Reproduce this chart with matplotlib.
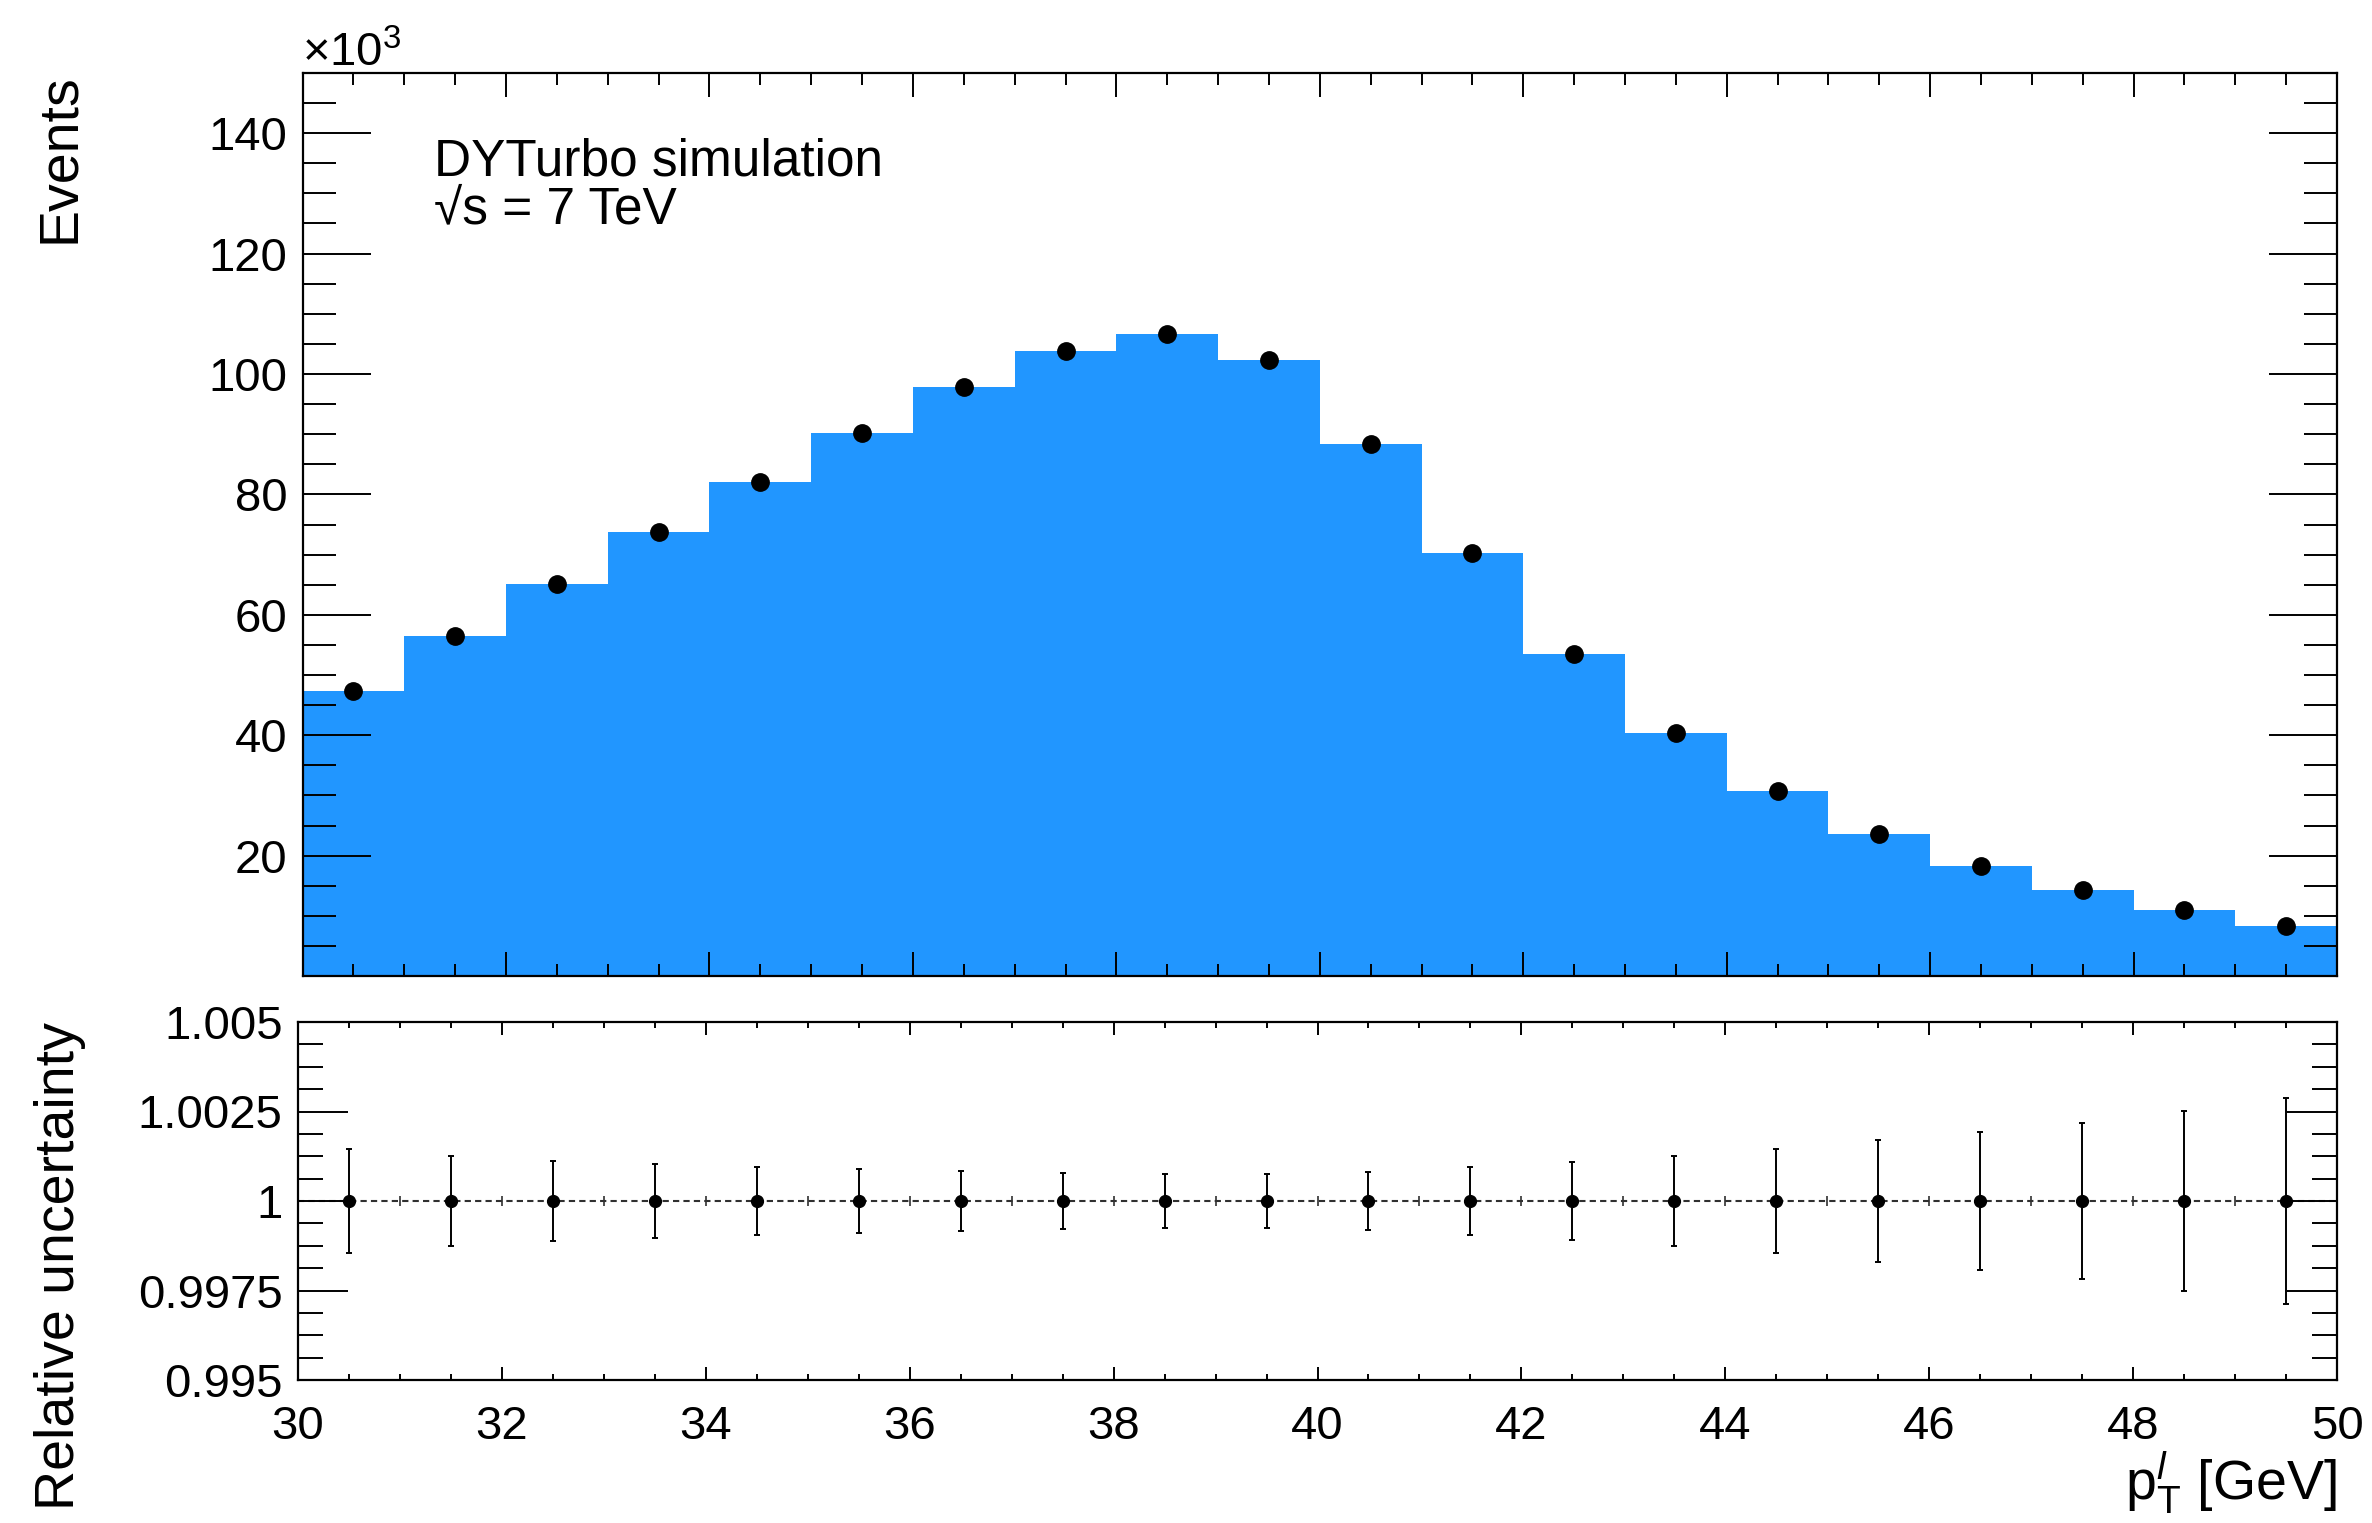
import numpy as np
import matplotlib
matplotlib.use("Agg")
import matplotlib.pyplot as plt
from matplotlib.ticker import MultipleLocator, FixedLocator, FixedFormatter

# ---------------- data ----------------
pt_bin_edges = [30, 31, 32, 33, 34, 35, 36, 37, 38, 39, 40,
                41, 42, 43, 44, 45, 46, 47, 48, 49, 50]
pt_bin_centers = [30.5, 31.5, 32.5, 33.5, 34.5, 35.5, 36.5, 37.5, 38.5, 39.5,
                  40.5, 41.5, 42.5, 43.5, 44.5, 45.5, 46.5, 47.5, 48.5, 49.5]
# events in units of 10^3
events_k = [47.4, 56.4, 65.1, 73.7, 82.1, 90.2, 97.8, 103.9, 106.6, 102.4,
            88.4, 70.3, 53.5, 40.4, 30.8, 23.6, 18.2, 14.3, 11.0, 8.3]
ratio_central = [1.0] * 20
ratio_error = [0.00145, 0.00125, 0.00113, 0.00104, 0.00094, 0.00088, 0.00083,
               0.00079, 0.00076, 0.00076, 0.00081, 0.00094, 0.00110, 0.00126,
               0.00146, 0.00170, 0.00192, 0.00219, 0.00252, 0.00287]
upper_yticks = [20, 40, 60, 80, 100, 120, 140]
lower_yticks = [0.995, 0.9975, 1.0, 1.0025, 1.005]
lower_yticklabels = ["0.995", "0.9975", "1", "1.0025", "1.005"]
xticks = [30, 32, 34, 36, 38, 40, 42, 44, 46, 48, 50]

# ---------------- style ----------------
FONT = ["Liberation Sans", "DejaVu Sans"]
plt.rcParams["font.family"] = FONT
plt.rcParams["mathtext.fontset"] = "custom"
plt.rcParams["mathtext.rm"] = "Liberation Sans"
plt.rcParams["mathtext.it"] = "Liberation Sans:italic"
plt.rcParams["mathtext.bf"] = "Liberation Sans:bold"

W, H = 2372, 1523
fig = plt.figure(figsize=(W / 100, H / 100), dpi=100)

def frac_rect(l, t, r, b):
    return [l / W, 1 - b / H, (r - l) / W, (b - t) / H]

ax1 = fig.add_axes(frac_rect(302.6, 73, 2337, 976))
ax2 = fig.add_axes(frac_rect(298, 1022, 2337, 1380))

BLUE = "#2196ff"
TICK_FS = 34
TITLE_FS = 40

# upper panel
ax1.stairs(events_k, pt_bin_edges, fill=True, color=BLUE, linewidth=0)
ax1.plot(pt_bin_centers, events_k, "o", color="black", markersize=12.5, zorder=5)
ax1.set_xlim(30, 50)
ax1.set_ylim(0, 150)
ax1.yaxis.set_major_locator(FixedLocator(upper_yticks))
ax1.yaxis.set_minor_locator(MultipleLocator(5))
ax1.xaxis.set_major_locator(MultipleLocator(2))
ax1.xaxis.set_minor_locator(MultipleLocator(0.5))
ax1.tick_params(axis="both", which="both", direction="in", top=True, right=True,
                width=1.4, labelsize=TICK_FS)
ax1.tick_params(axis="y", which="major", length=49, pad=11)
ax1.tick_params(axis="y", which="minor", length=24)
ax1.tick_params(axis="x", which="major", length=17)
ax1.tick_params(axis="x", which="minor", length=8.6)
ax1.tick_params(axis="x", labelbottom=False)
for s in ax1.spines.values():
    s.set_linewidth(1.6)

fig.text(302 / W, 1 - 66 / H, r"$\times$10$^{3}$", fontsize=TICK_FS,
         ha="left", va="baseline")
ax1.text(0.0645, 0.886, "DYTurbo simulation", transform=ax1.transAxes,
         fontsize=37, ha="left", va="baseline")
ax1.text(0.0645, 0.834, "\u221As = 7 TeV", transform=ax1.transAxes,
         fontsize=37, ha="left", va="baseline")
fig.text(60 / W, 1 - 73 / H, "Events", rotation=90, fontsize=TITLE_FS,
         ha="center", va="top")

# lower panel
ax2.axhline(1.0, color="#303030", linewidth=1.5, linestyle=(0, (3, 2)), zorder=1)
ax2.plot(pt_bin_edges, [1.0] * len(pt_bin_edges), linestyle="none", marker="|",
         markersize=7, markeredgewidth=1.2, color="#303030", zorder=1)
ax2.errorbar(pt_bin_centers, ratio_central, yerr=ratio_error, fmt="o",
             color="black", markersize=8.5, elinewidth=1.4, capsize=2.5,
             capthick=1.4, zorder=5)
ax2.set_xlim(30, 50)
ax2.set_ylim(0.995, 1.005)
ax2.yaxis.set_major_locator(FixedLocator(lower_yticks))
ax2.yaxis.set_major_formatter(FixedFormatter(lower_yticklabels))
ax2.yaxis.set_minor_locator(MultipleLocator(0.000625))
ax2.xaxis.set_major_locator(FixedLocator(xticks))
ax2.xaxis.set_minor_locator(MultipleLocator(0.5))
ax2.tick_params(axis="both", which="both", direction="in", top=True, right=True,
                width=1.4, labelsize=TICK_FS)
ax2.tick_params(axis="y", which="major", length=36, pad=11)
ax2.tick_params(axis="y", which="minor", length=18)
ax2.tick_params(axis="x", which="major", length=9.5, pad=18)
ax2.tick_params(axis="x", which="minor", length=4.5)
for s in ax2.spines.values():
    s.set_linewidth(1.6)

fig.text(2337 / W, 1 - 1500 / H, r"p$_{\mathrm{T}}^{l}$ [GeV]", fontsize=TITLE_FS,
         ha="right", va="baseline")
fig.text(60 / W, 1 - 1022 / H, "Relative uncertainty", rotation=90,
         fontsize=TITLE_FS, ha="center", va="top")

fig.savefig("out.png", dpi=100)
